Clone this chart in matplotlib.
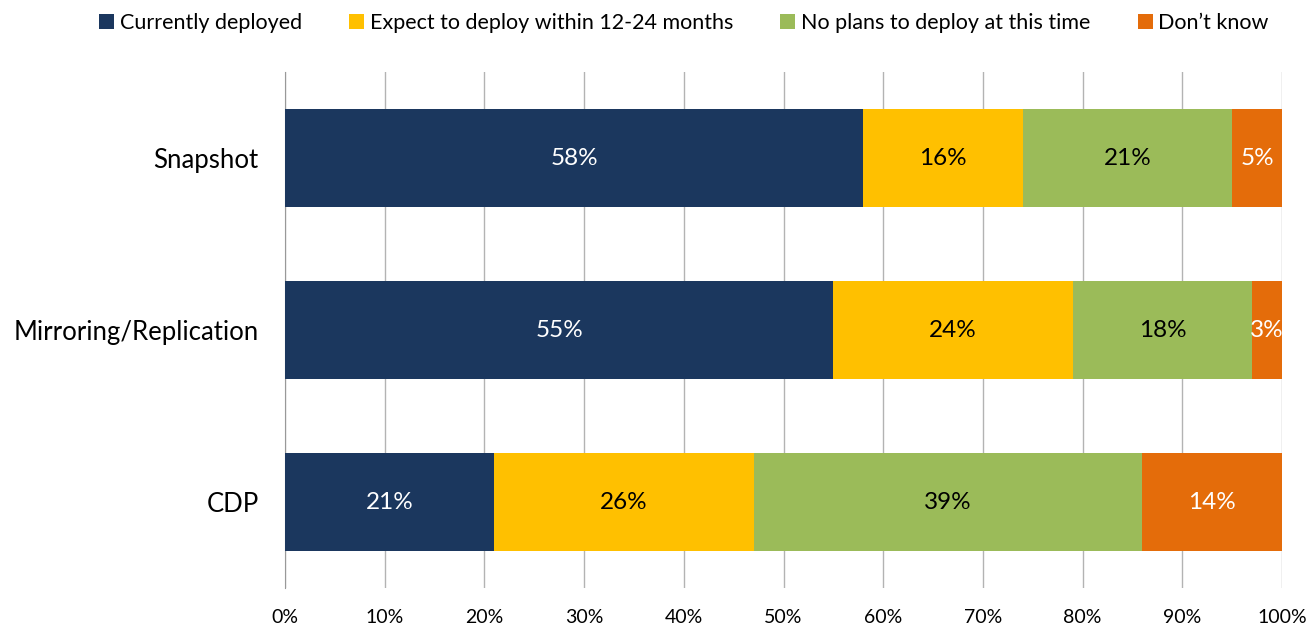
import matplotlib
matplotlib.use("Agg")
import matplotlib.pyplot as plt
import numpy as np
from matplotlib.patches import Patch

plt.rcParams['font.family'] = ['Lato', 'DejaVu Sans']

categories = ['Snapshot', 'Mirroring/Replication', 'CDP']
series = ['Currently deployed', 'Expect to deploy within 12-24 months',
          'No plans to deploy at this time', 'Don\u2019t know']
values = [
    [58, 55, 21],
    [16, 24, 26],
    [21, 18, 39],
    [5, 3, 14],
]
colors = ['#1b375e', '#ffc000', '#9bbb59', '#e46c0a']
label_colors = ['white', 'black', 'black', 'white']

fig = plt.figure(figsize=(13.15, 6.26), dpi=100)
ax = fig.add_axes([285 / 1315, 1 - 588 / 626, (1282 - 285) / 1315, (588 - 72) / 626])

y = np.arange(len(categories))
left = np.zeros(len(categories))
for vals, col, tc in zip(values, colors, label_colors):
    vals = np.array(vals, dtype=float)
    ax.barh(y, vals, left=left, height=0.575, color=col, zorder=3)
    for yi, l, v in zip(y, left, vals):
        ax.text(l + v / 2, yi, f'{int(v)}%', ha='center', va='center',
                color=tc, fontsize=17.5, zorder=4)
    left += vals

ax.set_xlim(0, 100)
ax.set_ylim(2.5, -0.5)
ax.set_yticks(y)
ax.set_yticklabels(categories, fontsize=18.5)
ax.set_xticks(np.arange(0, 101, 10))
ax.set_xticklabels([f'{t}%' for t in range(0, 101, 10)], fontsize=14)
ax.tick_params(axis='y', length=0, pad=19)
ax.tick_params(axis='x', length=0, pad=15)
ax.grid(axis='x', color='#b3b3b3', linewidth=1, zorder=0)
for s in ['top', 'right', 'bottom']:
    ax.spines[s].set_visible(False)
ax.spines['left'].set_color('#999999')

handles = [Patch(facecolor=c, edgecolor='none') for c in colors]
fig.legend(handles, series, loc='upper center', bbox_to_anchor=(0.52, 1.01),
           ncol=4, frameon=False, fontsize=15.5, handlelength=0.7, handleheight=0.7,
           handletextpad=0.25, columnspacing=2.2)

fig.savefig('out.png', dpi=100)
